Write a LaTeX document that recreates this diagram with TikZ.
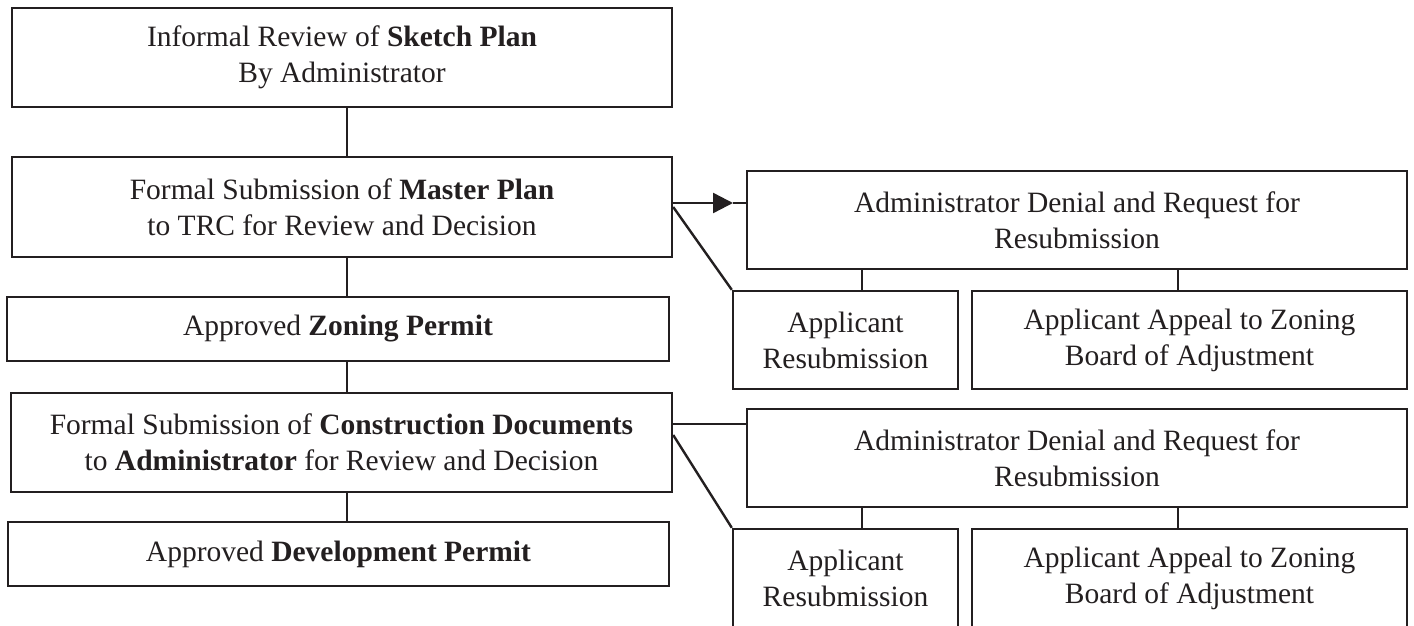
\documentclass[tikz,border=0pt]{standalone}
\usepackage{fontspec}
\setmainfont{Liberation Serif}
\usetikzlibrary{arrows.meta}
\definecolor{ink}{RGB}{35,31,32}
\begin{document}
\begin{tikzpicture}[x=1pt,y=-1pt,
  box/.style={draw=ink,line width=2.4pt,fill=white,inner sep=0pt,align=center,
    text=ink,font=\fontsize{29.5}{36}\selectfont},
  conn/.style={draw=ink,line width=2.4pt}]
\useasboundingbox (0,0) rectangle (1414,626);
\clip (0,0) rectangle (1414,626);
\fill[white] (0,0) rectangle (1414,626);
% left column
\node[box,minimum width=660pt,minimum height=99pt] (b1) at (342,57.5) {Informal Review of \textbf{Sketch Plan}\\By Administrator};
\node[box,minimum width=660pt,minimum height=100pt] (b2) at (342,207) {Formal Submission of \textbf{Master Plan}\\to TRC for Review and Decision};
\node[box,minimum width=662pt,minimum height=64pt] (b3) at (338,329) {Approved \textbf{Zoning Permit}};
\node[box,minimum width=661pt,minimum height=99pt] (b4) at (341.5,442.5) {Formal Submission of \textbf{Construction Documents}\\to \textbf{Administrator} for Review and Decision};
\node[box,minimum width=661pt,minimum height=64pt] (b5) at (338.5,554) {Approved \textbf{Development Permit}};
% right group 1
\node[box,minimum width=660pt,minimum height=98pt] (d1) at (1077,220) {Administrator Denial and Request for\\Resubmission};
\node[box,minimum width=225pt,minimum height=98pt] (a1) at (845.5,340) {Applicant\\Resubmission};
\node[box,minimum width=435pt,minimum height=98pt] (p1) at (1189.5,340) {Applicant Appeal to Zoning\\Board of Adjustment};
% right group 2
\node[box,minimum width=660pt,minimum height=98pt] (d2) at (1077,458) {Administrator Denial and Request for\\Resubmission};
\node[box,minimum width=225pt,minimum height=98pt] (a2) at (845.5,578) {Applicant\\Resubmission};
\node[box,minimum width=435pt,minimum height=98pt] (p2) at (1189.5,578) {Applicant Appeal to Zoning\\Board of Adjustment};
% helper coordinates
\coordinate (ax) at (347,0);
\coordinate (c1) at (862,0);
\coordinate (c2) at (1178,0);
\coordinate (tip1) at (733,203);
\coordinate (l2) at (0,424);
\coordinate (dg2) at (0,435);
% vertical connectors
\draw[conn] (b1.south -| ax) -- (b2.north -| ax);
\draw[conn] (b2.south -| ax) -- (b3.north -| ax);
\draw[conn] (b3.south -| ax) -- (b4.north -| ax);
\draw[conn] (b4.south -| ax) -- (b5.north -| ax);
\draw[conn] (d1.south -| c1) -- (a1.north -| c1);
\draw[conn] (d1.south -| c2) -- (p1.north -| c2);
\draw[conn] (d2.south -| c1) -- (a2.north -| c1);
\draw[conn] (d2.south -| c2) -- (p2.north -| c2);
% group 1 links
\draw[conn,-{Triangle[length=20pt,width=20pt]}] (b2.east |- tip1) -- (tip1);
\draw[conn] (tip1) -- (d1.west |- tip1);
\draw[conn] (b2.east) -- (a1.north west);
% group 2 links
\draw[conn] (b4.east |- l2) -- (d2.west |- l2);
\draw[conn] (b4.east |- dg2) -- (a2.north west);
\end{tikzpicture}
\end{document}
